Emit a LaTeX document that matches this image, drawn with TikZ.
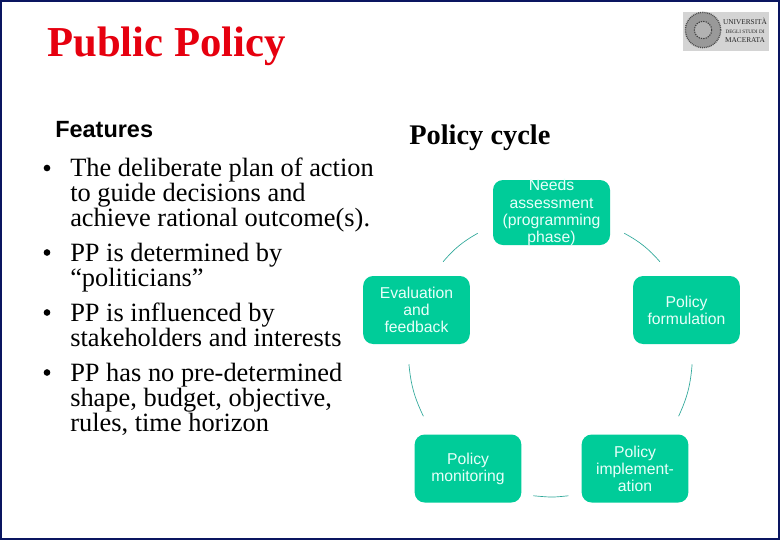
\documentclass[tikz,border=0pt]{standalone}
\usepackage{xcolor}
\usepackage{fontspec}
\setmainfont{Liberation Serif}
\setsansfont{Liberation Sans}
\usetikzlibrary{positioning}
\definecolor{framenavy}{HTML}{0A1560}
\definecolor{titlered}{HTML}{E6000F}
\definecolor{stagegreen}{HTML}{00CC99}
\definecolor{linkteal}{HTML}{2FA89A}
\definecolor{stagetext}{HTML}{E8FFFA}
\begin{document}
\begin{tikzpicture}[
  x=0.75pt, y=-0.75pt,
  stage/.style={rectangle, fill=stagegreen, rounded corners=7.5pt, minimum width=80pt, minimum height=51pt, inner sep=0pt, align=center, text=stagetext, font=\sffamily\fontsize{11.8}{12.8}\selectfont},
  link/.style={draw=linkteal, line width=0.5pt},
  point/.style={anchor=north west, inner sep=0pt, align=left, font=\fontsize{19.8}{18.8}\selectfont},
  dot/.style={circle, fill=black, inner sep=0pt, minimum size=5pt},
]
  \useasboundingbox (0,0) rectangle (780,540);
  \node[draw=framenavy, line width=1.5pt, fill=white, minimum width=583.5pt, minimum height=403.5pt, inner sep=0pt] (frame) at (390,270) {};

  % headings
  \node[anchor=base west, inner sep=0pt, text=titlered, font=\bfseries\fontsize{32}{36}\selectfont] (title) at (47,56) {Public Policy};
  \node[anchor=base west, inner sep=0pt, font=\sffamily\bfseries\fontsize{17.6}{20}\selectfont] (features) at (55,137) {Features};
  \node[anchor=base west, inner sep=0pt, font=\bfseries\fontsize{21.3}{24}\selectfont] (cycle) at (409,144) {Policy cycle};

  % logo
  \node[fill=black!17, minimum width=64.5pt, minimum height=29.25pt, inner sep=0pt] (logo) at (726,31.5) {};
  \node[circle, draw=black!70, line width=1pt, dash pattern=on 0.7pt off 0.7pt, fill=black!40, minimum size=26.5pt, inner sep=0pt] (seal) at (703,30) {};
  \node[circle, draw=black!75, line width=0.8pt, dash pattern=on 1pt off 0.8pt, fill=black!30, minimum size=13pt, inner sep=0pt] (sealin) at (703,30) {};
  \node[anchor=center, inner sep=0pt, align=center, text=black!85, font=\fontsize{5.5}{7.2}\selectfont] (logotext) at (745,30) {UNIVERSITÀ\\[-0.5pt]{\fontsize{3.9}{6}\selectfont DEGLI STUDI DI}\\[-0.5pt]MACERATA};

  % features list
  \node[point] (p1) at (70,158) {The deliberate plan of action\\to guide decisions and\\achieve rational outcome(s).};
  \node[point] (p2) at (70,243) {PP is determined by\\“politicians”};
  \node[point] (p3) at (70,303) {PP is influenced by\\stakeholders and interests};
  \node[point] (p4) at (70,363) {PP has no pre-determined\\shape, budget, objective,\\rules, time horizon};
  \node[dot] (d1) at (47,168) {};
  \node[dot] (d2) at (47,252.5) {};
  \node[dot] (d3) at (47,312.5) {};
  \node[dot] (d4) at (47,372.5) {};

  % cycle stages
  \node[stage, minimum width=87.75pt, minimum height=48.75pt, inner ysep=-4pt] (needs) at (551.5,212.5) {Needs\\assessment\\(programming\\phase)};
  \node[stage] (formul) at (686.5,310) {Policy\\formulation};
  \node[stage] (impl) at (635,468.5) {Policy\\implement-\\ation};
  \node[stage] (monit) at (468,468.5) {Policy\\monitoring};
  \node[stage] (eval) at (416.5,310) {Evaluation\\and\\feedback};

  % cycle links
  \draw[link] ([xshift=10.5pt,yshift=9pt]needs.south east) to[bend left=10] ([xshift=20.25pt,yshift=10.5pt]formul.north west);
  \draw[link] ([xshift=-36pt,yshift=-15pt]formul.south east) to[bend left=10] ([xshift=-7.5pt,yshift=13.5pt]impl.north east);
  \draw[link] ([xshift=-36pt,yshift=5.25pt]impl.south west) .. controls ([xshift=-22pt,yshift=4pt]impl.south west) .. ([xshift=-9.75pt,yshift=5.25pt]impl.south west);
  \draw[link] ([xshift=6.75pt,yshift=13.5pt]monit.north west) to[bend left=10] ([xshift=34.5pt,yshift=-15pt]eval.south west);
  \draw[link] ([xshift=-20.25pt,yshift=10.5pt]eval.north east) to[bend left=10] ([xshift=-11.25pt,yshift=9pt]needs.south west);
\end{tikzpicture}
\end{document}
